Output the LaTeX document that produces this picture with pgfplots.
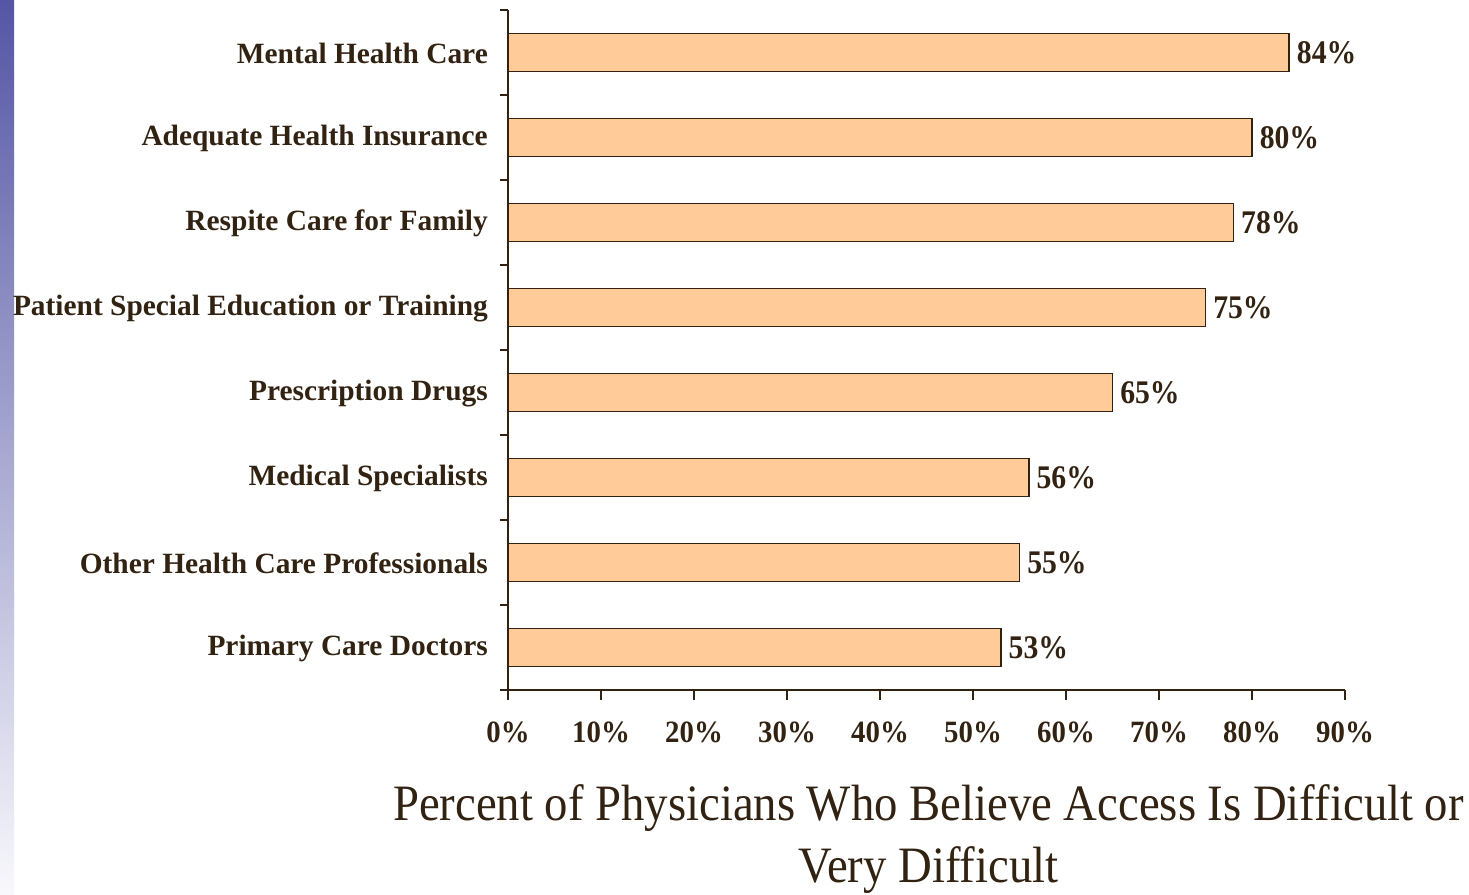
\documentclass[border=0pt]{standalone}
\usepackage{pgfplots}
\pgfplotsset{compat=1.18}
\usepackage{fontspec}
\setmainfont{Liberation Serif}
\newfontfamily\condfont[FakeStretch=0.9]{Liberation Serif}
\newfontfamily\titlefont[FakeStretch=0.916]{Liberation Serif}
\newfontfamily\tickfont[FakeStretch=0.93]{Liberation Serif}
\definecolor{txt}{RGB}{50,34,18}
\definecolor{barfill}{RGB}{255,204,153}
\definecolor{stripT}{RGB}{85,85,165}
\definecolor{stripB}{RGB}{248,248,252}
\begin{document}
\begin{tikzpicture}[x=1pt,y=1pt]
\useasboundingbox (0,0) rectangle (1469,894);
\shade[top color=stripT, bottom color=stripB] (0,0) rectangle (14,894);
\begin{axis}[
  at={(508pt,204pt)}, anchor=south west,
  scale only axis, width=837pt, height=680pt,
  xmin=0, xmax=90, ymin=-0.5, ymax=7.5,
  clip=false,
  xbar, bar width=38pt,
  axis x line*=bottom, axis y line*=left,
  axis line style={txt, line width=1.2pt, -},
  tick align=outside,
  major tick length=10pt, minor tick length=8pt,
  tick style={txt, line width=1.2pt},
  major y tick style={opacity=0},
  xtick={0,10,...,90},
  xticklabel={\pgfmathprintnumber{\tick}\%},
  ytick={0,...,7},
  minor ytick={-0.5,0.5,...,7.5},
  yticklabels={Primary Care Doctors, Other Health Care Professionals, Medical Specialists, Prescription Drugs, Patient Special Education or Training, Respite Care for Family, Adequate Health Insurance, Mental Health Care},
  /pgf/number format/assume math mode=true,
  x tick label style={font=\tickfont\bfseries\fontsize{31}{31}\selectfont, text=txt, inner sep=0pt, yshift=-22pt},
  y tick label style={font=\bfseries\fontsize{29.4}{29.4}\selectfont, text=txt, inner sep=0pt, xshift=-10pt, yshift=-1pt},
  point meta=x,
  nodes near coords={\pgfmathprintnumber{\pgfplotspointmeta}\%},
  nodes near coords align=horizontal,
  every node near coord/.append style={font=\condfont\bfseries\fontsize{33}{33}\selectfont, text=txt, inner sep=0pt, anchor=west, xshift=7pt},
  xlabel={Percent of Physicians Who Believe Access Is Difficult or\\Very Difficult},
  xlabel style={at={(axis description cs:0.5,0)}, anchor=north, yshift=-94pt, xshift=2pt, align=center, font=\titlefont\fontsize{51}{62}\selectfont, text=txt, inner sep=0pt},
]
\addplot[fill=barfill, draw=txt, line width=1.5pt] coordinates {(53,0) (55,1) (56,2) (65,3) (75,4) (78,5) (80,6) (84,7)};
\end{axis}
\end{tikzpicture}
\end{document}
